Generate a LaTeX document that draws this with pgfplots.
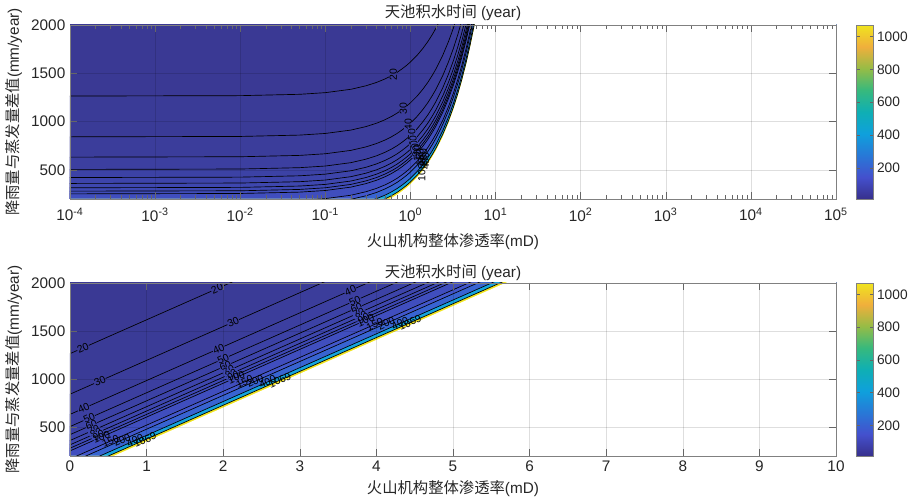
\documentclass[border=0pt]{standalone}
\usepackage{fontspec}
\setmainfont{Liberation Sans}
\newfontfamily\cjk{Noto Sans CJK SC}
\usepackage{pgfplots}
\usepackage{pgfplotstable}
\pgfplotsset{compat=1.18}

\definecolor{c0}{RGB}{58,57,148}
\definecolor{c20}{RGB}{58,59,151}
\definecolor{c30}{RGB}{59,61,155}
\definecolor{c40}{RGB}{60,63,160}
\definecolor{c50}{RGB}{60,66,165}
\definecolor{c60}{RGB}{61,68,170}
\definecolor{c70}{RGB}{62,71,175}
\definecolor{c80}{RGB}{62,73,180}
\definecolor{c90}{RGB}{63,76,185}
\definecolor{c100}{RGB}{64,78,190}
\definecolor{c150}{RGB}{66,87,204}
\definecolor{c200}{RGB}{56,100,210}
\definecolor{c400}{RGB}{20,165,222}
\definecolor{c1069}{RGB}{240,228,30}

\pgfplotsset{colormap={parula}{rgb255=(55,48,140) rgb255=(68,80,205) rgb255=(40,120,215) rgb255=(15,160,220) rgb255=(15,175,180) rgb255=(55,185,125) rgb255=(150,188,70) rgb255=(240,175,60) rgb255=(240,228,30)}}

\pgfplotstableread{
k b L20 L30 L40 L50 L60 L70 L80 L90 L100 L150 L200 L400 L1069
0.0001 0 1265 843 633 506 422 361 316 281 253 169 127 63 24
0.01 4 1269 847 637 510 426 365 320 285 257 173 131 67 28
0.05 18 1283 861 651 524 440 379 334 299 271 187 145 81 42
0.1 35 1300 878 668 541 457 396 351 316 288 204 162 98 59
0.2 70 1335 913 703 576 492 431 386 351 323 239 197 133 94
0.3 106 1371 949 739 612 528 467 422 387 359 275 233 169 130
0.4 141 1406 984 774 647 563 502 457 422 394 310 268 204 165
0.5 176 1441 1019 809 682 598 537 492 457 429 345 303 239 200
0.6 211 1476 1054 844 717 633 572 527 492 464 380 338 274 235
0.7 246 1511 1089 879 752 668 607 562 527 499 415 373 309 270
0.8 282 1547 1125 915 788 704 643 598 563 535 451 409 345 306
0.9 317 1582 1160 950 823 739 678 633 598 570 486 444 380 341
1.0 352 1617 1195 985 858 774 713 668 633 605 521 479 415 376
1.2 422 1687 1265 1055 928 844 783 738 703 675 591 549 485 446
1.4 493 1758 1336 1126 999 915 854 809 774 746 662 620 556 517
1.6 563 1828 1406 1196 1069 985 924 879 844 816 732 690 626 587
1.8 634 1899 1477 1267 1140 1056 995 950 915 887 803 761 697 658
2.0 704 1969 1547 1337 1210 1126 1065 1020 985 957 873 831 767 728
2.4 845 2110 1688 1478 1351 1267 1206 1161 1126 1098 1014 972 908 869
2.8 986 2251 1829 1619 1492 1408 1347 1302 1267 1239 1155 1113 1049 1010
3.2 1126 2391 1969 1759 1632 1548 1487 1442 1407 1379 1295 1253 1189 1150
3.6 1267 2532 2110 1900 1773 1689 1628 1583 1548 1520 1436 1394 1330 1291
4.0 1408 2673 2251 2041 1914 1830 1769 1724 1689 1661 1577 1535 1471 1432
4.5 1584 2849 2427 2217 2090 2006 1945 1900 1865 1837 1753 1711 1647 1608
5.0 1760 3025 2603 2393 2266 2182 2121 2076 2041 2013 1929 1887 1823 1784
5.5 1936 3201 2779 2569 2442 2358 2297 2252 2217 2189 2105 2063 1999 1960
6.0 2112 3377 2955 2745 2618 2534 2473 2428 2393 2365 2281 2239 2175 2136
100000 3500 3500 3500 3500 3500 3500 3500 3500 3500 3500 3500 3500 3500 3500
}\tbl

\tikzset{clab/.style={font=\fontsize{7.8}{8}\selectfont, inner sep=0.3pt, text=black}}

\pgfplotsset{
  myaxis/.style={
    scale only axis, width=574.5pt,
    ymin=200, ymax=2000, ytick={500,1000,1500,2000},
    axis on top, grid=major,
    major grid style={black, opacity=0.13, line width=0.4pt},
    axis line style={black!50},
    every tick/.style={black!60, line width=0.4pt},
    major tick length=5pt, minor tick length=3pt,
    tick align=inside,
    tick label style={font=\fontsize{11.5}{12}\selectfont, text=black!85},
    /pgf/number format/assume math mode=true,
    /pgf/number format/1000 sep={},
    label style={font=\fontsize{11.5}{13}\selectfont, text=black!85},
    title style={font=\fontsize{11.5}{13}\selectfont, text=black!85, yshift=-6.5pt},
    title={{\cjk 天池积水时间} (year)},
    xlabel={{\cjk 火山机构整体渗透率}(mD)},
    ylabel={{\cjk 降雨量与蒸发量差值}(mm/year)},
    colorbar,
    colormap name=parula,
    point meta min=12.65, point meta max=1069,
    colorbar style={
      at={(parent axis.north east)}, anchor=north west, xshift=7pt,
      scale only axis, width=12.75pt,
      ytick={200,400,600,800,1000},
      axis line style={black!50},
      every tick/.style={black!60, line width=0.4pt},
      major tick length=2.5pt, tick align=inside,
      tick label style={font=\fontsize{10.3}{11}\selectfont, text=black!85},
      /pgf/number format/assume math mode=true,
      /pgf/number format/1000 sep={},
      yticklabel style={xshift=-1pt},
    },
  },
  cl/.style={black, line width=0.5pt},
}

\begin{document}
\begin{tikzpicture}
\useasboundingbox (0,0) rectangle (683.25pt,377.25pt);

% ---------------- top: log axis ----------------
\begin{axis}[myaxis, at={(52.5pt,228pt)}, anchor=south west, height=130.5pt,
  xmode=log, xmin=1e-4, xmax=1e5,
  xtick={1e-4,1e-3,1e-2,1e-1,1,10,100,1000,10000,100000},
  minor xtick={2e-4,3e-4,4e-4,5e-4,6e-4,7e-4,8e-4,9e-4,
    2e-3,3e-3,4e-3,5e-3,6e-3,7e-3,8e-3,9e-3,
    2e-2,3e-2,4e-2,5e-2,6e-2,7e-2,8e-2,9e-2,
    0.2,0.3,0.4,0.5,0.6,0.7,0.8,0.9,
    2,3,4,5,6,7,8,9,
    20,30,40,50,60,70,80,90,
    200,300,400,500,600,700,800,900,
    2000,3000,4000,5000,6000,7000,8000,9000,
    20000,30000,40000,50000,60000,70000,80000,90000},
  xticklabels={10\textsuperscript{-4},10\textsuperscript{-3},10\textsuperscript{-2},10\textsuperscript{-1},10\textsuperscript{0},10\textsuperscript{1},10\textsuperscript{2},10\textsuperscript{3},10\textsuperscript{4},10\textsuperscript{5}},
  xticklabel style={yshift=-3pt},
  xlabel style={yshift=-2.5pt},
]
\addplot[fill=c0, draw=none] coordinates {(1e-4,2100) (1e5,2100)} \closedcycle;
\addplot[fill=c20, draw=none] table[x=k,y=L20]{\tbl} \closedcycle;
\addplot[fill=c30, draw=none] table[x=k,y=L30]{\tbl} \closedcycle;
\addplot[fill=c40, draw=none] table[x=k,y=L40]{\tbl} \closedcycle;
\addplot[fill=c50, draw=none] table[x=k,y=L50]{\tbl} \closedcycle;
\addplot[fill=c60, draw=none] table[x=k,y=L60]{\tbl} \closedcycle;
\addplot[fill=c70, draw=none] table[x=k,y=L70]{\tbl} \closedcycle;
\addplot[fill=c80, draw=none] table[x=k,y=L80]{\tbl} \closedcycle;
\addplot[fill=c90, draw=none] table[x=k,y=L90]{\tbl} \closedcycle;
\addplot[fill=c100, draw=none] table[x=k,y=L100]{\tbl} \closedcycle;
\addplot[fill=c150, draw=none] table[x=k,y=L150]{\tbl} \closedcycle;
\addplot[fill=c200, draw=none] table[x=k,y=L200]{\tbl} \closedcycle;
\addplot[fill=c400, draw=none] table[x=k,y=L400]{\tbl} \closedcycle;
\addplot[fill=c1069, draw=none] table[x=k,y=L1069]{\tbl} \closedcycle;
\addplot[fill=white, draw=none] table[x=k,y=b]{\tbl} \closedcycle;
\addplot[cl] table[x=k,y=L20]{\tbl};
\addplot[cl] table[x=k,y=L30]{\tbl};
\addplot[cl] table[x=k,y=L40]{\tbl};
\addplot[cl] table[x=k,y=L50]{\tbl};
\addplot[cl] table[x=k,y=L60]{\tbl};
\addplot[cl] table[x=k,y=L70]{\tbl};
\addplot[cl] table[x=k,y=L80]{\tbl};
\addplot[cl] table[x=k,y=L90]{\tbl};
\addplot[cl] table[x=k,y=L100]{\tbl};
\addplot[cl] table[x=k,y=L150]{\tbl};
\addplot[cl] table[x=k,y=L200]{\tbl};
\addplot[cl] table[x=k,y=L400]{\tbl};
\addplot[cl] table[x=k,y=L1069]{\tbl};
\node[clab, rotate=90, fill=c20] at (axis cs:0.63,1487) {20};
\node[clab, rotate=90, fill=c30] at (axis cs:0.826,1134) {30};
\node[clab, rotate=90, fill=c40] at (axis cs:0.945,966) {40};
\node[clab, rotate=90, fill=c50] at (axis cs:1.035,870) {50};
\node[clab, rotate=90, fill=c60] at (axis cs:1.07,799) {60};
\node[clab, rotate=90, fill=c70] at (axis cs:1.1,748) {70};
\node[clab, rotate=90, fill=c80] at (axis cs:1.13,714) {80};
\node[clab, rotate=90, fill=c90] at (axis cs:1.16,689) {90};
\node[clab, rotate=90] at (axis cs:1.2,675) {100};
\node[clab, rotate=90] at (axis cs:1.3,627) {150};
\node[clab, rotate=90] at (axis cs:1.42,627) {200};
\node[clab, rotate=90] at (axis cs:1.5,591) {400};
\node[clab, rotate=90] at (axis cs:1.36,503) {1069};
\end{axis}

% ---------------- bottom: linear axis ----------------
\begin{axis}[myaxis, at={(52.5pt,35.25pt)}, anchor=south west, height=129.75pt,
  xmin=0, xmax=10, xtick={0,1,2,3,4,5,6,7,8,9,10},
  title style={yshift=-1pt},
]
\addplot[fill=c0, draw=none] coordinates {(0,2100) (10,2100)} \closedcycle;
\addplot[fill=c20, draw=none] coordinates {(0,1265) (11,5137)} \closedcycle;
\addplot[fill=c30, draw=none] coordinates {(0,843) (11,4715)} \closedcycle;
\addplot[fill=c40, draw=none] coordinates {(0,633) (11,4505)} \closedcycle;
\addplot[fill=c50, draw=none] coordinates {(0,506) (11,4378)} \closedcycle;
\addplot[fill=c60, draw=none] coordinates {(0,422) (11,4294)} \closedcycle;
\addplot[fill=c70, draw=none] coordinates {(0,361) (11,4233)} \closedcycle;
\addplot[fill=c80, draw=none] coordinates {(0,316) (11,4188)} \closedcycle;
\addplot[fill=c90, draw=none] coordinates {(0,281) (11,4153)} \closedcycle;
\addplot[fill=c100, draw=none] coordinates {(0,253) (11,4125)} \closedcycle;
\addplot[fill=c150, draw=none] coordinates {(0,169) (11,4041)} \closedcycle;
\addplot[fill=c200, draw=none] coordinates {(0,127) (11,3999)} \closedcycle;
\addplot[fill=c400, draw=none] coordinates {(0,63) (11,3935)} \closedcycle;
\addplot[fill=c1069, draw=none] coordinates {(0,24) (11,3896)} \closedcycle;
\addplot[fill=white, draw=none] coordinates {(0,0) (11,3872)} \closedcycle;
\addplot[cl] coordinates {(0,1265) (11,5137)};
\addplot[cl] coordinates {(0,843) (11,4715)};
\addplot[cl] coordinates {(0,633) (11,4505)};
\addplot[cl] coordinates {(0,506) (11,4378)};
\addplot[cl] coordinates {(0,422) (11,4294)};
\addplot[cl] coordinates {(0,361) (11,4233)};
\addplot[cl] coordinates {(0,316) (11,4188)};
\addplot[cl] coordinates {(0,281) (11,4153)};
\addplot[cl] coordinates {(0,253) (11,4125)};
\addplot[cl] coordinates {(0,169) (11,4041)};
\addplot[cl] coordinates {(0,127) (11,3999)};
\addplot[cl] coordinates {(0,63) (11,3935)};
\addplot[cl] coordinates {(0,24) (11,3896)};
% left cluster
\node[clab, rotate=24, fill=c20] at (axis cs:0.17,1325) {20};
\node[clab, rotate=24, fill=c30] at (axis cs:0.39,980) {30};
\node[clab, rotate=24, fill=c40] at (axis cs:0.18,696) {40};
\node[clab, rotate=24, fill=c50] at (axis cs:0.25,594) {50};
\node[clab, rotate=24, fill=c60] at (axis cs:0.28,521) {60};
\node[clab, rotate=24, fill=c70] at (axis cs:0.31,470) {70};
\node[clab, rotate=24, fill=c80] at (axis cs:0.34,436) {80};
\node[clab, rotate=24, fill=c90] at (axis cs:0.37,411) {90};
\node[clab, rotate=24] at (axis cs:0.41,397) {100};
\node[clab, rotate=24] at (axis cs:0.53,356) {150};
\node[clab, rotate=24] at (axis cs:0.68,366) {200};
\node[clab, rotate=24] at (axis cs:0.85,362) {400};
\node[clab, rotate=24] at (axis cs:0.98,369) {1069};
% middle cluster
\node[clab, rotate=24, fill=c20] at (axis cs:1.92,1941) {20};
\node[clab, rotate=24, fill=c30] at (axis cs:2.13,1593) {30};
\node[clab, rotate=24, fill=c40] at (axis cs:1.94,1316) {40};
\node[clab, rotate=24, fill=c50] at (axis cs:2.0,1210) {50};
\node[clab, rotate=24, fill=c60] at (axis cs:2.03,1137) {60};
\node[clab, rotate=24, fill=c70] at (axis cs:2.07,1090) {70};
\node[clab, rotate=24, fill=c80] at (axis cs:2.1,1055) {80};
\node[clab, rotate=24, fill=c90] at (axis cs:2.13,1031) {90};
\node[clab, rotate=24] at (axis cs:2.17,1017) {100};
\node[clab, rotate=24] at (axis cs:2.28,972) {150};
\node[clab, rotate=24] at (axis cs:2.42,979) {200};
\node[clab, rotate=24] at (axis cs:2.58,971) {400};
\node[clab, rotate=24] at (axis cs:2.74,988) {1069};
% right cluster
\node[clab, rotate=24, fill=c40] at (axis cs:3.66,1921) {40};
\node[clab, rotate=24, fill=c50] at (axis cs:3.72,1815) {50};
\node[clab, rotate=24, fill=c60] at (axis cs:3.74,1738) {60};
\node[clab, rotate=24, fill=c70] at (axis cs:3.77,1688) {70};
\node[clab, rotate=24, fill=c80] at (axis cs:3.8,1654) {80};
\node[clab, rotate=24, fill=c90] at (axis cs:3.83,1629) {90};
\node[clab, rotate=24] at (axis cs:3.86,1612) {100};
\node[clab, rotate=24] at (axis cs:3.98,1570) {150};
\node[clab, rotate=24] at (axis cs:4.13,1581) {200};
\node[clab, rotate=24] at (axis cs:4.31,1580) {400};
\node[clab, rotate=24] at (axis cs:4.44,1587) {1069};
\end{axis}
\end{tikzpicture}
\end{document}
